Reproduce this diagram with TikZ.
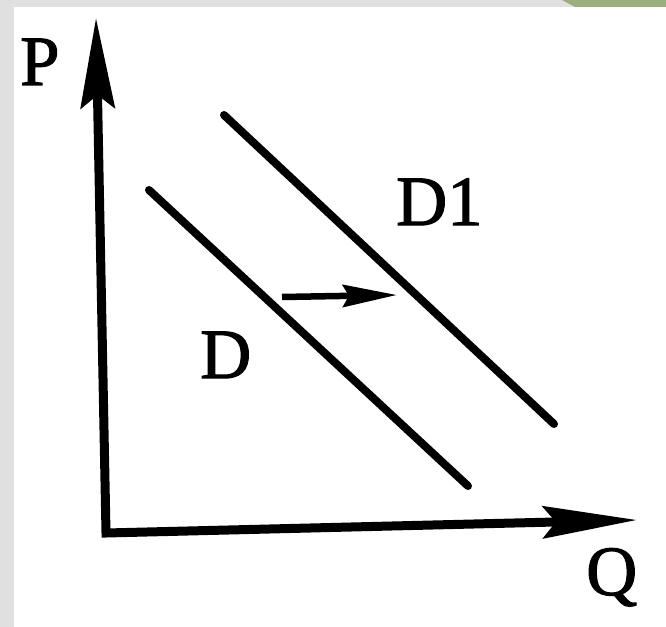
\documentclass[tikz,border=0pt]{standalone}
\usepackage{fontspec}
\setmainfont{LiberationSerif-Regular.ttf}[FakeBold=1.5]
\usetikzlibrary{arrows.meta}
\definecolor{frame}{HTML}{E0E0E0}
\definecolor{leaf}{HTML}{9BAF7C}
\begin{document}
\begin{tikzpicture}[x=1bp,y=-1bp,
  lbl/.style={inner sep=0pt, anchor=base west, font=\fontsize{71}{71}\selectfont},
  axisline/.style={line width=9bp, line join=miter},
  curve/.style={line width=8bp, line cap=round},
  shiftarrow/.style={line width=6.5bp, -{Stealth[length=54bp, width=22bp, inset=6bp]}}]
\useasboundingbox (0,0) rectangle (666,627);
\fill[white] (0,0) rectangle (666,627);
\fill[frame] (0,0) rectangle (14,627);
\fill[frame] (0,0) rectangle (666,7);
\fill[leaf] (562,0) -- (666,0) -- (666,7) -- (575,7) -- cycle;
% axes
\coordinate (ptip) at (96,18);
\coordinate (origin) at (106,533);
\coordinate (qtip) at (637,520);
\draw[axisline, {Stealth[length=90bp, width=34bp, inset=13bp]}-{Stealth[length=94bp, width=32bp, inset=13bp]}]
  (ptip) -- (origin) -- (qtip);
% demand curves
\coordinate (da) at (149,190);
\coordinate (db) at (468,486);
\coordinate (d1a) at (224,115);
\coordinate (d1b) at (554,424);
\draw[curve] (da) -- (db);
\draw[curve] (d1a) -- (d1b);
% shift arrow
\coordinate (sa) at (282,297);
\coordinate (sb) at (397,295);
\draw[shiftarrow] (sa) -- (sb);
% labels
\node[lbl] (P) at (20,85) {P};
\node[lbl] (Q) at (586,595) {Q};
\node[lbl] (D) at (200,378) {D};
\node[lbl] (D1) at (396,225) {D1};
\end{tikzpicture}
\end{document}
